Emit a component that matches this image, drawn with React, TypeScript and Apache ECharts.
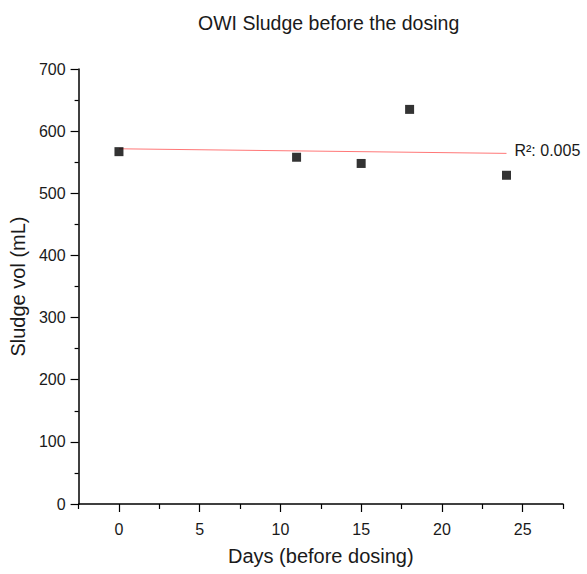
import React, { useEffect, useRef } from "react";
import * as echarts from "echarts";

const days = [0, 11, 15, 18, 24];
const sludgeVol = [567, 558, 548, 635, 529];
const fitLine = [
  [0, 571.6],
  [24, 564.2],
];
const fitLabel = "R²: 0.005";
const xMajorTicks = [0, 5, 10, 15, 20, 25];
const xMinorTicks = [-2.5, 2.5, 7.5, 12.5, 17.5, 22.5, 27.5];

const FONT = "'Liberation Sans', Arial, sans-serif";
const TXT = "#1a1a1a";

export default function App() {
  const ref = useRef<HTMLDivElement>(null);
  useEffect(() => {
    const chart = echarts.init(ref.current!, null, { renderer: "svg" });
    chart.setOption({
      animation: false,
      backgroundColor: "#fff",
      textStyle: { fontFamily: FONT },
      title: {
        text: "OWI Sludge before the dosing",
        left: 193,
        top: 8,
        textStyle: { fontFamily: FONT, fontSize: 19.5, fontWeight: "normal", color: TXT },
      },
      grid: { left: 78, top: 69, right: 24, bottom: 70, containLabel: false },
      xAxis: [
        {
          type: "value",
          min: -2.5,
          max: 27.5,
          name: "Days (before dosing)",
          nameLocation: "middle",
          nameGap: 42,
          nameTextStyle: { fontFamily: FONT, fontSize: 20, color: TXT },
          axisLine: { show: true, onZero: false, lineStyle: { color: "#000", width: 1.5 } },
          axisTick: { show: true, customValues: xMajorTicks, length: 8, lineStyle: { color: "#000", width: 1.2 } },
          axisLabel: { customValues: xMajorTicks, margin: 17, fontSize: 16, color: TXT, fontFamily: FONT },
          splitLine: { show: false },
        },
        {
          type: "value",
          position: "bottom",
          min: -2.5,
          max: 27.5,
          axisLine: { show: false, onZero: false },
          axisTick: { show: true, customValues: xMinorTicks, length: 5, lineStyle: { color: "#000", width: 1.2 } },
          axisLabel: { show: false },
          splitLine: { show: false },
        },
      ],
      yAxis: {
        type: "value",
        min: 0,
        max: 700,
        interval: 100,
        name: "Sludge vol (mL)",
        nameLocation: "middle",
        nameGap: 45,
        nameTextStyle: { fontFamily: FONT, fontSize: 20, color: TXT },
        axisLine: { show: true, onZero: false, lineStyle: { color: "#000", width: 1.5 } },
        axisTick: { show: true, length: 8, lineStyle: { color: "#000", width: 1.2 } },
        minorTick: { show: true, splitNumber: 2, length: 4, lineStyle: { color: "#000", width: 1.2 } },
        axisLabel: { margin: 13, fontSize: 16, color: TXT, fontFamily: FONT },
        splitLine: { show: false },
      },
      series: [
        {
          type: "line",
          xAxisIndex: 0,
          data: fitLine,
          showSymbol: false,
          symbol: "none",
          lineStyle: { color: "#ff7777", width: 1 },
          endLabel: {
            show: true,
            distance: 8,
            formatter: fitLabel,
            fontSize: 16,
            color: TXT,
            fontFamily: FONT,
            offset: [0, -3],
          },
          z: 1,
        },
        {
          type: "scatter",
          xAxisIndex: 0,
          data: days.map((d, i) => [d, sludgeVol[i]]),
          symbol: "rect",
          symbolSize: 9,
          itemStyle: { color: "#000" },
          z: 3,
        },
      ],
    });
    return () => chart.dispose();
  }, []);
  return <div ref={ref} style={{ position: "fixed", left: 0, top: 0, width: 587, height: 574 }} />;
}
